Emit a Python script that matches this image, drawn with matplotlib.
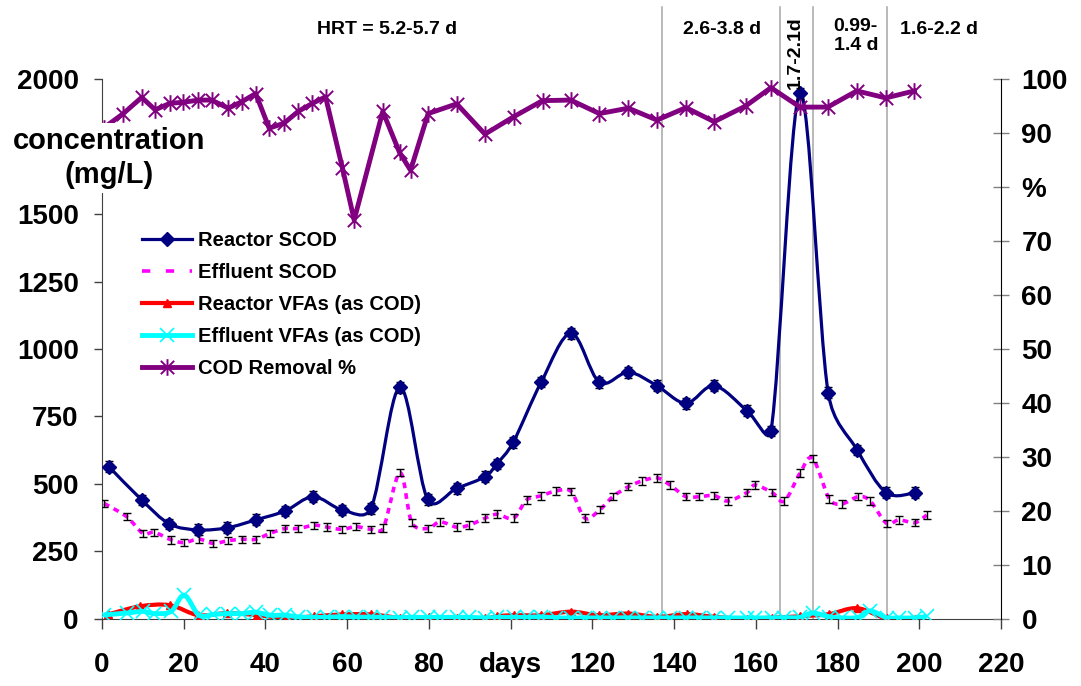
import matplotlib
matplotlib.use('Agg')
import matplotlib.pyplot as plt
import numpy as np
from matplotlib.path import Path
from matplotlib.patches import PathPatch
from matplotlib.lines import Line2D

plt.rcParams['font.family'] = 'Liberation Sans'
plt.rcParams['font.weight'] = 'bold'

# Reactor SCOD (mg/L)
reactor_days = [1.7, 9.7, 16.5, 23.6, 30.7, 37.6, 44.8, 51.7, 58.8, 65.8, 72.9, 79.7,
                86.8, 93.7, 96.6, 100.6, 107.5, 114.8, 121.7, 128.8, 135.8, 142.9,
                149.8, 157.8, 163.7, 170.8, 177.7, 184.8, 191.9, 199.0]
reactor_scod = [564, 441, 352, 330, 338, 367, 400, 453, 404, 410, 858, 443,
                484, 527, 574, 654, 878, 1058, 877, 914, 864, 799,
                864, 772, 696, 1947, 838, 626, 468, 468]
reactor_err = 20

# Effluent SCOD (mg/L)
effluent_days = [0.5, 6.0, 10.0, 12.8, 16.9, 20.1, 23.7, 27.2, 30.9, 34.2, 37.6, 41.1,
                 44.8, 48.0, 51.9, 55.1, 58.8, 62.1, 65.8, 68.8, 72.9, 75.8, 79.8, 82.7,
                 86.8, 89.9, 93.7, 96.7, 100.7, 103.9, 107.4, 111.1, 114.8, 118.2, 121.9,
                 125.0, 128.8, 132.1, 135.8, 139.0, 142.9, 146.1, 149.8, 153.1, 157.8,
                 159.8, 164.0, 167.0, 170.8, 173.9, 178.0, 181.0, 185.1, 188.0, 192.0,
                 195.0, 199.0, 201.8]
effluent_scod = [428, 379, 317, 321, 293, 283, 296, 280, 290, 295, 295, 317,
                 335, 335, 347, 340, 332, 342, 332, 336, 542, 357, 335, 360,
                 340, 348, 373, 388, 373, 441, 456, 474, 472, 373, 406,
                 453, 490, 511, 523, 496, 453, 453, 457, 437, 468,
                 496, 468, 437, 540, 595, 444, 426, 453, 437, 354,
                 367, 357, 385]
effluent_err = 14

# Reactor VFAs (as COD)
rvfa_days = [1.5, 9.3, 16.6, 23.6, 30.7, 37.9, 45.2, 51.9, 58.8, 65.8, 72.9, 79.9,
             86.8, 93.7, 96.6, 100.7, 107.4, 114.8, 121.5, 128.7, 135.9, 143.1,
             149.8, 157.8, 163.9, 170.9, 177.9, 184.8, 192.0, 199.0]
rvfa = [17, 47, 51, 14, 22, 14, 3, 10, 17, 17, 5, 7,
        5, 2, 10, 14, 14, 27, 14, 20, 8, 18,
        8, 1, 5, 10, 18, 40, 2, 0]

# Effluent VFAs (as COD)
evfa_days = effluent_days
evfa = [15, 22, 28, 20, 28, 88, 14, 17, 20, 20, 25, 14,
        14, 8, 6, 6, 9, 7, 7, 6, 5, 6, 6, 6,
        6, 6, 4, 6, 6, 6, 8, 4, 4, 4, 4,
        4, 4, 4, 4, 4, 4, 4, 4, 4, 4,
        4, 4, 5, 6, 22, 8, 4, 6, 30, 5,
        4, 4, 10]

# COD removal (%)
removal_days = [0.5, 5.2, 9.7, 13.0, 16.6, 19.9, 23.6, 26.8, 30.9, 34.2, 37.6, 40.9,
                44.5, 48.0, 51.5, 54.7, 58.8, 61.7, 68.7, 72.8, 75.5, 79.8, 86.8,
                93.7, 100.7, 107.8, 114.7, 121.7, 128.8, 135.8, 142.9, 149.8, 157.5,
                163.7, 170.8, 177.6, 184.7, 191.8, 198.8]
removal = [91.0, 93.6, 96.6, 94.3, 95.5, 95.7, 96.1, 96.1, 94.6, 95.8, 97.3, 90.9,
           91.8, 94.0, 95.5, 96.7, 83.6, 73.9, 94.0, 86.4, 83.1, 93.6, 95.4,
           89.8, 93.0, 96.0, 96.1, 93.6, 94.6, 92.4, 94.7, 92.1, 95.0,
           98.4, 94.8, 94.8, 97.8, 96.5, 97.8]

# HRT period boundaries (days) and labels
hrt_bounds = [137, 166, 174, 192]
hrt_labels = ["HRT = 5.2-5.7 d", "2.6-3.8 d", "1.7-2.1d", "0.99-\n1.4 d", "1.6-2.2 d"]
hrt_label_x = [69.7, 151.7, 169.6, 184.5, 204.8]

x_ticks = list(range(0, 221, 20))
x_ticklabels = ['days' if t == 100 else str(t) for t in x_ticks]
left_ticks = list(range(0, 2001, 250))
left_ticklabels = ['' if t == 1750 else str(t) for t in left_ticks]
right_ticks = list(range(0, 101, 10))
right_ticklabels = ['%' if t == 80 else str(t) for t in right_ticks]


def smooth_path(a, xs, ys):
    # Excel-like "smoothed line": Bezier segments, tangent length limited on screen
    pts = np.column_stack([xs, ys]).astype(float)
    disp = a.transData.transform(pts)
    n = len(pts)
    verts = [pts[0]]
    codes = [Path.MOVETO]

    def frac(d_long, d_seg):
        if d_long <= 0:
            return 0.0
        return 1 / 6 if d_long / 6 < d_seg / 2 else d_seg / 2 / d_long

    for i in range(n - 1):
        i0 = max(i - 1, 0)
        i3 = min(i + 2, n - 1)
        d12 = np.hypot(*(disp[i + 1] - disp[i]))
        f1 = frac(np.hypot(*(disp[i + 1] - disp[i0])), d12)
        f2 = frac(np.hypot(*(disp[i3] - disp[i])), d12)
        c1 = pts[i] + f1 * (pts[i + 1] - pts[i0])
        c2 = pts[i + 1] - f2 * (pts[i3] - pts[i])
        verts += [c1, c2, pts[i + 1]]
        codes += [Path.CURVE4] * 3
    return Path(verts, codes)


asterisk = Path([(-1, -1), (1, 1), (-1, 1), (1, -1), (0, -1.25), (0, 1.25)],
                [Path.MOVETO, Path.LINETO, Path.MOVETO, Path.LINETO, Path.MOVETO, Path.LINETO])

NAVY, MAGENTA, RED, CYAN, PURPLE = '#000080', '#FF00FF', '#FF0000', '#00FFFF', '#800080'

fig = plt.figure(figsize=(10.81, 6.86), dpi=100)
ax = fig.add_axes([0.0944, 0.0977, 0.8316, 0.7871])
ax2 = ax.twinx()

ax.set_xlim(0, 220)
ax.set_ylim(0, 2000)
ax2.set_ylim(0, 100)

# period boundary lines
for b in hrt_bounds:
    ax.axvline(b, ymin=0, ymax=1.133, color='#A6A6A6', lw=1.1, clip_on=False, zorder=1)

# Reactor SCOD
ax.add_patch(PathPatch(smooth_path(ax, reactor_days, reactor_scod), fill=False,
                       edgecolor=NAVY, lw=2.3, zorder=3))
ax.errorbar(reactor_days, reactor_scod, yerr=reactor_err, fmt='none', ecolor='black',
            elinewidth=1, capsize=3, capthick=1, zorder=4)
ax.plot(reactor_days, reactor_scod, ls='none', marker='D', ms=7.5, color=NAVY, zorder=5)

# Effluent SCOD
ax.add_patch(PathPatch(smooth_path(ax, effluent_days, effluent_scod), fill=False,
                       edgecolor=MAGENTA, lw=2.6, ls=(0, (1.6, 1.4)), zorder=3))
ax.errorbar(effluent_days, effluent_scod, yerr=effluent_err, fmt='none', ecolor='black',
            elinewidth=1, capsize=3, capthick=1, zorder=4)

# Reactor VFAs
ax.add_patch(PathPatch(smooth_path(ax, rvfa_days, rvfa), fill=False,
                       edgecolor=RED, lw=3, zorder=3))
ax.plot(rvfa_days, rvfa, ls='none', marker='^', ms=6, color=RED, zorder=4)

# Effluent VFAs
ax.add_patch(PathPatch(smooth_path(ax, evfa_days, evfa), fill=False,
                       edgecolor=CYAN, lw=3.5, zorder=5))
ax.plot(evfa_days, evfa, ls='none', marker='x', ms=10, mew=1.2, color=CYAN, zorder=6)

# COD removal on secondary axis (straight segments)
ax2.plot(removal_days, removal, color=PURPLE, lw=3.5, marker=asterisk, ms=12, mew=1.4,
         zorder=4)

# axes styling
for a in (ax, ax2):
    a.spines['top'].set_visible(False)
ax.spines['right'].set_visible(False)
ax.spines['left'].set_color('#404040')
ax.spines['bottom'].set_color('#404040')
ax2.spines['left'].set_visible(False)
ax2.spines['bottom'].set_visible(False)
ax2.spines['right'].set_color('black')

ax.set_xticks(x_ticks)
ax.set_xticklabels(x_ticklabels, fontsize=20, fontweight='bold')
ax.set_yticks(left_ticks)
ax.set_yticklabels(left_ticklabels, fontsize=20, fontweight='bold')
ax2.set_yticks(right_ticks)
ax2.set_yticklabels(right_ticklabels, fontsize=20, fontweight='bold')

ax.tick_params(axis='x', direction='out', length=7, width=1, color='#404040', pad=17)
ax.tick_params(axis='y', direction='out', length=5.8, width=1, color='#404040', pad=11)
ax2.tick_params(axis='y', direction='inout', length=11.5, width=1, color='#808080', pad=9)

# axis title replacing the 1750 tick label
fig.text(109 / 1081, 1 - 158 / 686, "concentration\n(mg/L)", fontsize=21, fontweight='bold',
         ha='center', va='center', multialignment='center', linespacing=1.25,
         bbox=dict(facecolor='white', edgecolor='none', pad=3), zorder=10)

# HRT labels
trans = matplotlib.transforms.blended_transform_factory(ax2.transData, ax2.transAxes)
for lab, lx in zip(hrt_labels, hrt_label_x):
    if lab == "1.7-2.1d":
        ax2.text(lx, 1.048, lab, transform=trans, fontsize=14, fontweight='bold',
                 rotation=90, ha='center', va='center', clip_on=False, zorder=10)
    elif '\n' in lab:
        ax2.text(lx, 1.080, lab, transform=trans, fontsize=14, fontweight='bold',
                 ha='center', va='center', multialignment='left', linespacing=1.2,
                 clip_on=False, zorder=10)
    else:
        ax2.text(lx, 1.091, lab, transform=trans, fontsize=14, fontweight='bold',
                 ha='center', va='center', clip_on=False, zorder=10)

# legend
handles = [
    Line2D([], [], color=NAVY, lw=2.3, marker='D', ms=7.5),
    Line2D([], [], color=MAGENTA, lw=2.6, ls=(0, (2.3, 4.3))),
    Line2D([], [], color=RED, lw=3, marker='^', ms=6),
    Line2D([], [], color=CYAN, lw=3.5, marker='x', ms=10, mew=1.2),
    Line2D([], [], color=PURPLE, lw=3.5, marker=asterisk, ms=12, mew=1.4),
]
labels = ["Reactor SCOD", "Effluent SCOD", "Reactor VFAs (as COD)",
          "Effluent VFAs (as COD)", "COD Removal %"]
leg = fig.legend(handles, labels, loc='upper left', bbox_to_anchor=(142 / 1081, 1 - 231 / 686),
                 bbox_transform=fig.transFigure, frameon=False, borderpad=0, borderaxespad=0,
                 handlelength=2.5, handletextpad=0.3, labelspacing=0.64,
                 prop={'family': 'Liberation Sans', 'weight': 'bold', 'size': 14.5})
leg.set_zorder(10)

fig.savefig('out.png', dpi=100)
